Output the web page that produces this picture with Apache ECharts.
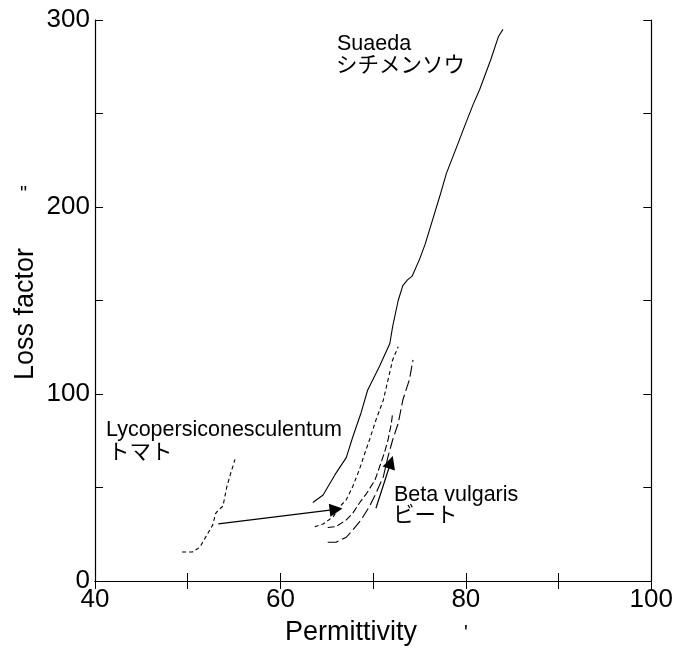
<!DOCTYPE html>
<html>
<head>
<meta charset="utf-8">
<script src="https://cdn.jsdelivr.net/npm/echarts@6/dist/echarts.min.js"></script>
<style>
html,body{margin:0;padding:0;background:#fff;}
#chart{width:676px;height:657px;}
</style>
</head>
<body>
<div id="chart"></div>
<script>
// ---- data (Permittivity ε', Loss factor ε'') ----
const suaeda = [[63.5,42],[64.6,46],[65.9,57],[67.1,66],[67.8,77],[68.7,90],[69.4,102],[70.7,115],[71.8,127],[72.1,136],[72.7,150],[73.2,158],[73.7,161],[74.2,163],[75.0,172],[75.6,180],[76.4,193],[77.2,206],[77.9,218],[79.0,232],[80.0,245],[80.8,255],[81.5,263],[82.7,279],[83.5,291],[84.0,295]];
const tomato = [[49.4,15.5],[50.5,15.5],[51.3,18],[52.0,24],[52.7,30],[53.0,36],[53.3,38],[53.8,40],[54.2,50],[54.6,57],[55.1,65]];
const betaA = [[63.7,29],[64.6,30.5],[65.7,34.4],[66.4,39.8],[67.1,43.4],[67.8,50.5],[68.5,59.4],[69.1,68.3],[69.6,75.4],[70.3,86.1],[71.1,96.8],[71.6,107.5],[72.1,118.2],[72.7,125.3]];
const betaB = [[65.1,28.6],[66.0,29.1],[67.1,32.7],[67.8,36.2],[68.5,41.6],[69.3,46.9],[70.2,54.0],[70.7,61.2],[71.2,68.3],[71.6,75.4],[71.96,84.3],[72.1,89.7]];
const betaC = [[65.1,20.7],[66.0,20.7],[67.1,23.4],[67.8,27.3],[68.7,32.7],[69.6,39.8],[70.3,46.9],[71.1,55.8],[71.6,66.5],[72.1,75.4],[72.7,84.3],[73.2,96.8],[73.9,107.5],[74.3,118.2]];
const arrowTomato = [[53.3,30.5],[66.0,38.3]];
const arrowBeta = [[70.3,38.9],[71.9,63.5]];
const xTicks = [40,60,80,100];
const yTicks = [0,100,200,300];

const FONT = '"Liberation Sans", Arial, "Noto Sans CJK JP", sans-serif';
const chart = echarts.init(document.getElementById('chart'), null, {renderer:'canvas'});

function lineSeries(data, dash){
  return {type:'line', data:data, symbol:'none', smooth:false, silent:true,
    lineStyle:{color:'#000', width:1.1, type: dash}};
}
const axisLineStyle = {show:true, lineStyle:{color:'#000', width:1.2}};
const tickStyle = {show:true, inside:true, length:8, lineStyle:{color:'#000', width:1}};

chart.setOption({
  animation:false,
  backgroundColor:'#fff',
  grid:{left:95, right:24, top:20, bottom:76},
  xAxis:[
    {type:'value', min:40, max:100, interval:10, position:'bottom',
     axisLine:axisLineStyle, axisTick:tickStyle, splitLine:{show:false},
     axisLabel:{color:'#000', fontSize:26, fontFamily:FONT, margin:6,
       formatter:v=> xTicks.includes(v)? String(v):''}},
    {type:'value', min:40, max:100, interval:10, position:'top',
     axisLine:axisLineStyle, axisTick:tickStyle, splitLine:{show:false}, axisLabel:{show:false}}
  ],
  yAxis:[
    {type:'value', min:0, max:300, interval:50, position:'left',
     axisLine:axisLineStyle, axisTick:tickStyle, splitLine:{show:false},
     axisLabel:{color:'#000', fontSize:26, fontFamily:FONT, margin:5,
       formatter:v=> yTicks.includes(v)? String(v):''}},
    {type:'value', min:0, max:300, interval:50, position:'right',
     axisLine:axisLineStyle, axisTick:tickStyle, splitLine:{show:false}, axisLabel:{show:false}}
  ],
  series:[
    lineSeries(suaeda,'solid'),
    lineSeries(tomato,[4,3]),
    lineSeries(betaA,[4,3]),
    lineSeries(betaB,[7,3]),
    lineSeries(betaC,[11,4]),
    {type:'lines', coordinateSystem:'cartesian2d', silent:true,
     symbol:['none','triangle'], symbolSize:[9,13],
     lineStyle:{color:'#000', width:1.2, opacity:1, curveness:0},
     itemStyle:{color:'#000'},
     data:[{coords:arrowTomato},{coords:arrowBeta}]}
  ],
  graphic:[
    {type:'text', left:337, top:33, style:{text:'Suaeda', fill:'#000', font:'21.5px '+FONT}},
    {type:'text', left:336, top:55, style:{text:'シチメンソウ', fill:'#000', font:'21.5px '+FONT}},
    {type:'text', left:106, top:419, style:{text:'Lycopersiconesculentum', fill:'#000', font:'21.5px '+FONT}},
    {type:'text', left:108, top:442, style:{text:'トマト', fill:'#000', font:'21.5px '+FONT}},
    {type:'text', left:394, top:484, style:{text:'Beta vulgaris', fill:'#000', font:'21.5px '+FONT}},
    {type:'text', left:393, top:505, style:{text:'ビート', fill:'#000', font:'21.5px '+FONT}},
    {type:'text', left:285, top:619, style:{text:'Permittivity', fill:'#000', font:'27px '+FONT}},
    {type:'text', left:464, top:623, style:{text:"'", fill:'#000', font:'20px '+FONT}},
    {type:'text', x:12, y:380, rotation:Math.PI/2, style:{text:'Loss factor', fill:'#000', font:'27px '+FONT}},
    {type:'text', left:20, top:184, style:{text:'"', fill:'#000', font:'20px '+FONT}}
  ]
});
</script>
</body>
</html>
